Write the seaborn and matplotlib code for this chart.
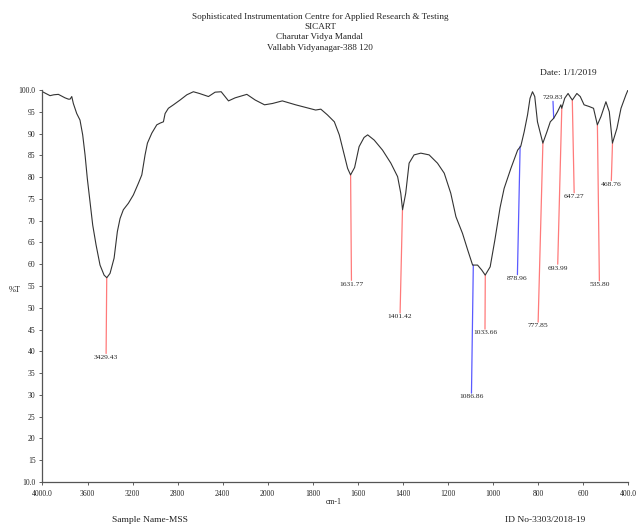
import numpy as np
import pandas as pd
import matplotlib
matplotlib.use("Agg")
import matplotlib.pyplot as plt
import seaborn as sns
from matplotlib.ticker import FixedLocator, FixedFormatter

# ---------------- data ----------------
wavenumber = [4000, 3970, 3933, 3900, 3859, 3830, 3800, 3770, 3755, 3740, 3726, 3696, 3667,
              3643, 3622, 3602, 3578, 3554, 3524, 3489, 3453, 3429, 3400, 3364, 3335, 3311,
              3282, 3237, 3193, 3148, 3118, 3089, 3068, 3029, 2985, 2955, 2926, 2911, 2882,
              2837, 2778, 2718, 2660, 2606, 2526, 2467, 2413, 2348, 2289, 2185, 2111, 2028,
              1979, 1935, 1876, 1831, 1787, 1764, 1735, 1704, 1682, 1660, 1645, 1632, 1614,
              1594, 1572, 1556, 1527, 1490, 1453, 1423, 1409, 1401, 1387, 1372, 1350, 1320,
              1283, 1246, 1216, 1187, 1164, 1135, 1112, 1090, 1068, 1050, 1034, 1012, 991,
              968, 950, 920, 890, 876, 861, 846, 835, 824, 814, 802, 787, 778, 760, 745, 730,
              713, 698, 694, 681, 666, 654, 647, 627, 612, 595, 572, 553, 536, 520, 498, 483,
              469, 449, 431, 409, 400]
transmittance = [99.6, 99.2, 98.7, 98.9, 99.0, 98.6, 98.2, 97.9, 97.9, 98.5, 96.9, 94.6, 93.1,
                 89.7, 85.1, 79.7, 74.4, 69.0, 64.4, 59.8, 57.5, 56.9, 57.9, 61.4, 67.5, 70.5,
                 72.5, 74.0, 75.9, 78.6, 80.5, 85.1, 87.8, 90.1, 92.0, 92.4, 92.7, 94.6, 95.8,
                 96.6, 97.7, 98.9, 99.6, 99.2, 98.5, 99.5, 99.6, 97.5, 98.2, 99.0, 97.7, 96.6,
                 96.9, 97.5, 96.6, 96.0, 95.4, 95.6, 94.3, 92.7, 89.7, 85.1, 82.0, 80.5, 82.2,
                 87.0, 89.1, 89.7, 88.5, 86.2, 83.2, 80.1, 76.3, 72.5, 76.3, 83.2, 85.1, 85.5,
                 85.1, 83.2, 80.9, 76.3, 70.9, 67.1, 63.3, 59.8, 59.8, 58.7, 57.5, 59.4, 65.6,
                 73.0, 77.4, 82.0, 86.2, 87.1, 90.4, 94.3, 98.1, 99.6, 98.5, 92.7, 89.7, 87.8,
                 90.4, 92.7, 93.5, 95.0, 96.6, 95.8, 98.1, 99.2, 98.2, 97.7, 99.2, 98.5, 96.6,
                 96.2, 95.8, 92.0, 93.9, 97.3, 95.0, 87.8, 91.2, 95.8, 98.9, 100.0]

peak_labels = ["3429.43", "1631.77", "1401.42", "1086.86", "1033.66", "878.96",
               "777.85", "729.83", "693.99", "647.27", "535.80", "468.76"]
peak_wn = [3429.43, 1631.77, 1401.42, 1086.86, 1033.66, 878.96,
           777.85, 729.83, 693.99, 647.27, 535.80, 468.76]
peak_T = [56.9, 80.5, 72.5, 59.8, 57.5, 87.1, 87.8, 93.5, 95.8, 97.7, 92.0, 87.8]
label_wn = [3435, 1628, 1412, 1095, 1035, 891, 799, 733, 712, 639, 527, 474]
line_end_T = [39.5, 56.3, 48.8, 30.4, 45.1, 57.6, 46.7, 97.4, 60.0, 76.4, 56.2, 79.2]
peak_colors = ["red", "red", "red", "blue", "red", "blue",
               "red", "blue", "red", "red", "red", "red"]

x_ticks = [4000, 3600, 3200, 2800, 2400, 2000, 1800, 1600, 1400, 1200, 1000, 800, 600, 400]
x_tick_labels = ["4000.0", "3600", "3200", "2800", "2400", "2000", "1800", "1600",
                 "1400", "1200", "1000", "800", "600", "400.0"]
y_ticks = [10, 15, 20, 25, 30, 35, 40, 45, 50, 55, 60, 65, 70, 75, 80, 85, 90, 95, 100]
y_tick_labels = ["10.0"] + [str(v) for v in y_ticks[1:-1]] + ["100.0"]

# ---------------- style ----------------
sns.set_theme(style="ticks")
plt.rcParams["font.family"] = ["Liberation Serif", "DejaVu Serif"]
TXT = "#222222"
col_map = {"red": "#ff7a7a", "blue": "#5a5aff"}

fig = plt.figure(figsize=(6.38, 5.26), dpi=100)
ax = fig.add_axes([0.0666, 0.0837, 0.9177, 0.7452])


def fwd(x):
    x = np.asarray(x, dtype=float)
    return np.where(x > 2000, 2000 + (x - 2000) / 2.0, x)


def inv(u):
    u = np.asarray(u, dtype=float)
    return np.where(u > 2000, 2000 + (u - 2000) * 2.0, u)


ax.set_xscale("function", functions=(fwd, inv))

df = pd.DataFrame({"wn": wavenumber, "T": transmittance})
sns.lineplot(data=df, x="wn", y="T", ax=ax, color="#333333", linewidth=0.8,
             sort=False, estimator=None)

for lab, pw, pt, lw_, le, c in zip(peak_labels, peak_wn, peak_T, label_wn, line_end_T, peak_colors):
    ax.plot([pw, lw_], [pt, le], color=col_map[c], linewidth=0.9, zorder=1)
    va = "bottom" if le > pt else "top"
    ax.text(lw_, le + (0.3 if va == "bottom" else -0.3), lab, ha="center", va=va,
            fontsize=5.4, color=TXT)

ax.set_xlim(4000, 400)
ax.set_ylim(10, 100)
ax.xaxis.set_major_locator(FixedLocator(x_ticks))
ax.xaxis.set_major_formatter(FixedFormatter(x_tick_labels))
ax.xaxis.set_minor_locator(FixedLocator([]))
ax.yaxis.set_major_locator(FixedLocator(y_ticks))
ax.yaxis.set_major_formatter(FixedFormatter(y_tick_labels))
ax.tick_params(axis="both", length=2, width=0.6, labelsize=5.5, colors="#444444",
               labelcolor=TXT, direction="out")
ax.tick_params(axis="x", pad=4)
ax.tick_params(axis="y", pad=3)
for s in ["top", "right"]:
    ax.spines[s].set_visible(False)
for s in ["left", "bottom"]:
    ax.spines[s].set_color("#555555")
    ax.spines[s].set_linewidth(0.9)
ax.set_xlabel("")
ax.set_ylabel("")

# texts in figure coordinates
W, H = 638, 526
def ft(x, y, s, size, ha="center"):
    fig.text(x / W, 1 - y / H, s, ha=ha, va="center", fontsize=size, color=TXT)

ft(320, 17, "Sophisticated Instrumentation Centre for Applied Research & Testing", 6.6)
ft(320, 27, "SICART", 6.6)
ft(320, 37, "Charutar Vidya Mandal", 6.6)
ft(320, 48, "Vallabh Vidyanagar-388 120", 6.6)
ft(568, 73, "Date: 1/1/2019", 6.8)
ft(15, 290, "%T", 6.0)
ft(334, 502, "cm-1", 5.6)
ft(150, 520, "Sample Name-MSS", 6.8)
ft(545, 520, "ID No-3303/2018-19", 6.8)

fig.savefig("out.png", dpi=100, facecolor="white")
